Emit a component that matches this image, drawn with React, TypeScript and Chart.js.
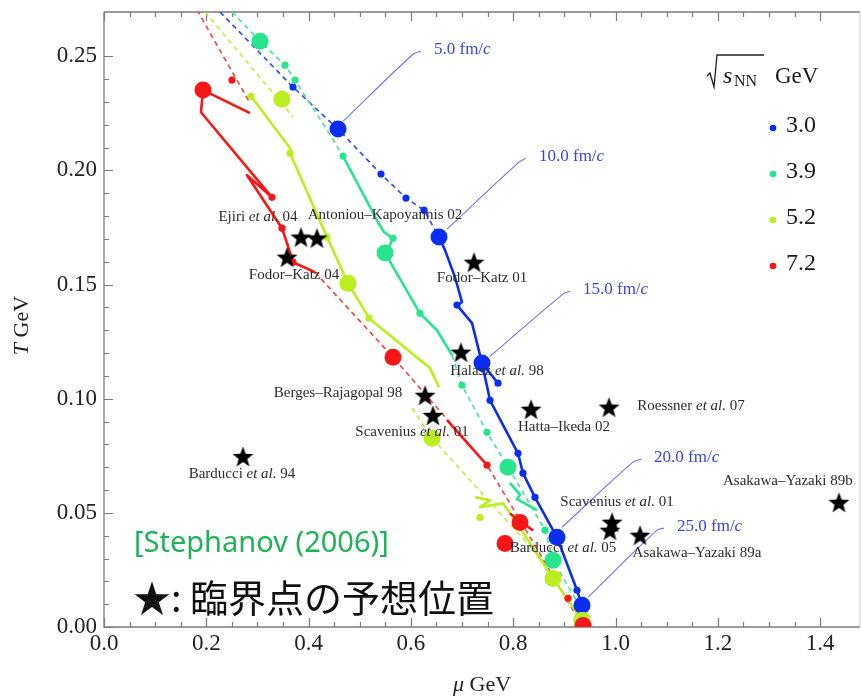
import React, { useEffect, useRef } from 'react';
import { Chart, registerables } from 'chart.js';

Chart.register(...registerables);

type P = [number, number];

// ---------- axes ----------
const xMin = 0;
const xMax = 1.478;
const yMin = 0;
const yMax = 0.2694;

// ---------- legend ----------
const energies = ['3.0', '3.9', '5.2', '7.2'];
const seriesColors = ['#0b2df2', '#27e58c', '#bbee1e', '#f81616'];
const dashedColors = ['#3552e6', '#4fe0a8', '#c6ec4a', '#ee4a4a'];

// ---------- sqrt(sNN) = 3.0 GeV (blue) ----------
const blueDashed: P[][] = [
  [[0.2268, 0.2694], [0.3695, 0.2365], [0.4575, 0.2181], [0.5415, 0.1984], [0.5904, 0.1879], [0.6256, 0.1826], [0.6549, 0.1708]],
];
const blueSolid: P[][] = [
  [[0.6549, 0.1708], [0.6667, 0.1651], [0.6862, 0.1532], [0.6999, 0.1423], [0.6901, 0.1410], [0.7195, 0.1331], [0.7390, 0.1156], [0.7703, 0.1068]],
  [[0.7390, 0.1156], [0.7547, 0.0993], [0.8094, 0.0761], [0.8191, 0.0674], [0.8426, 0.0568], [0.8856, 0.0393], [0.9247, 0.0161], [0.9345, 0.0095]],
];
const blueSmall: P[] = [[0.3695, 0.2365], [0.5415, 0.1984], [0.5904, 0.1879], [0.6256, 0.1826], [0.6901, 0.1410], [0.7703, 0.1068], [0.7547, 0.0993], [0.8094, 0.0761], [0.8191, 0.0674], [0.8426, 0.0568], [0.9247, 0.0161]];
const blueBig: P[] = [[0.4575, 0.2181], [0.6549, 0.1708], [0.7390, 0.1156], [0.8856, 0.0393], [0.9345, 0.0095]];

// ---------- 3.9 GeV (green) ----------
const greenDashed: P[][] = [
  [[0.2503, 0.2694], [0.3050, 0.2566], [0.3539, 0.2461], [0.3734, 0.2396], [0.4360, 0.2177], [0.4673, 0.2063]],
  [[0.6804, 0.1191], [0.6999, 0.1059], [0.7488, 0.0853], [0.7898, 0.0700], [0.8133, 0.0612], [0.8622, 0.0424], [0.8778, 0.0292], [0.9267, 0.0104], [0.9345, 0.0029]],
];
const greenSolid: P[][] = [
  [[0.4673, 0.2063], [0.5357, 0.1773], [0.5474, 0.1730], [0.5650, 0.1703], [0.5591, 0.1673], [0.5494, 0.1638], [0.6178, 0.1374], [0.6510, 0.1300], [0.6804, 0.1191]],
  [[0.7937, 0.0630], [0.8133, 0.0580], [0.8075, 0.0560], [0.8465, 0.0512]],
];
const greenSmall: P[] = [[0.3539, 0.2461], [0.3734, 0.2396], [0.4673, 0.2063], [0.5650, 0.1703], [0.6178, 0.1374], [0.6999, 0.1059], [0.7488, 0.0853], [0.8622, 0.0424]];
const greenBig: P[] = [[0.3050, 0.2566], [0.5494, 0.1638], [0.7898, 0.0700], [0.8778, 0.0292], [0.9345, 0.0029]];

// ---------- 5.2 GeV (yellow-green) ----------
const yellowDashed: P[][] = [
  [[0.1975, 0.2694], [0.3695, 0.2234]],
  [[0.6022, 0.0959], [0.6413, 0.0827], [0.8524, 0.0305], [0.8778, 0.0213]],
];
const yellowSolid: P[][] = [
  [[0.2874, 0.2325], [0.3636, 0.2098], [0.3636, 0.2075], [0.4360, 0.1708], [0.4770, 0.1506], [0.5181, 0.1353], [0.5318, 0.1327], [0.5748, 0.1248], [0.6373, 0.1134], [0.6550, 0.1050]],
  [[0.7253, 0.0569], [0.7547, 0.0555], [0.7351, 0.0525], [0.7801, 0.0542], [0.7996, 0.0481], [0.8778, 0.0213], [0.9345, 0.0029]],
];
const yellowSmall: P[] = [[0.2874, 0.2325], [0.3636, 0.2075], [0.4360, 0.1708], [0.5181, 0.1353], [0.7350, 0.0480]];
const yellowBig: P[] = [[0.3480, 0.2312], [0.4770, 0.1506], [0.6413, 0.0827], [0.8778, 0.0213], [0.9345, 0.0029]];

// ---------- 7.2 GeV (red) ----------
const redDashed: P[][] = [
  [[0.1818, 0.2703], [0.2854, 0.2295]],
  [[0.4125, 0.1554], [0.5650, 0.1182], [0.7488, 0.0709], [0.8133, 0.0468], [0.9345, 0.0007]],
];
const redSolid: P[][] = [
  [[0.2854, 0.2251], [0.1935, 0.2352], [0.1896, 0.2255], [0.3284, 0.1882], [0.2796, 0.1979], [0.3480, 0.1747], [0.3578, 0.1681], [0.3695, 0.1598], [0.4125, 0.1554]],
  [[0.6706, 0.0906], [0.7488, 0.0709]],
  [[0.7937, 0.0497], [0.8387, 0.0423]],
];
const redSmall: P[] = [[0.2502, 0.2396], [0.3284, 0.1882], [0.3480, 0.1747], [0.3695, 0.1598], [0.7488, 0.0709], [0.9071, 0.0126]];
const redBig: P[] = [[0.1935, 0.2352], [0.5650, 0.1182], [0.8133, 0.0458], [0.7840, 0.0366], [0.9364, 0.0007]];

// ---------- time markers (fm/c) ----------
const timeLabels = ['5.0', '10.0', '15.0', '20.0', '25.0'];
const calloutPaths: P[][] = [
  [[0.4673, 0.2215], [0.6041, 0.2509], [0.6197, 0.2522]],
  [[0.6706, 0.1743], [0.8113, 0.2036], [0.8250, 0.2054]],
  [[0.7547, 0.1186], [0.8974, 0.1458], [0.9110, 0.1471]],
  [[0.8954, 0.0437], [1.0342, 0.0722], [1.0499, 0.0735]],
  [[0.9462, 0.0130], [1.0811, 0.0424], [1.0948, 0.0433]],
];

// ---------- critical point predictions ----------
const starNames = [
  'Ejiri *et al.* 04', 'Antoniou–Kapoyannis 02', 'Fodor–Katz 04', 'Fodor–Katz 01',
  'Halasz *et al.* 98', 'Berges–Rajagopal 98', 'Scavenius *et al.* 01', 'Barducci *et al.* 94',
  'Hatta–Ikeda 02', 'Roessner *et al.* 07', 'Asakawa–Yazaki 89b', 'Scavenius *et al.* 01',
  'Barducci *et al.* 05', 'Asakawa–Yazaki 89a',
];
const starMu = [0.3851, 0.4164, 0.3578, 0.7234, 0.6979, 0.6276, 0.6432, 0.2717, 0.8348, 0.9873, 1.4369, 0.9932, 0.9892, 1.0479];
const starT = [0.1708, 0.1704, 0.1620, 0.1598, 0.1204, 0.1015, 0.0927, 0.0747, 0.0954, 0.0963, 0.0546, 0.0459, 0.0424, 0.0402];

// label placement relative to each star (px offset, alignment)
const starLabelPlace: [number, number, string][] = [
  [-43, -20, 'center'], [68, -23, 'center'], [7, 18, 'center'], [8, 16, 'center'],
  [36, 19, 'center'], [-87, -2, 'center'], [-21, 17, 'center'], [-1, 18, 'center'],
  [33, 18, 'center'], [82, -1, 'center'], [-116, -21, 'left'], [5, -20, 'center'],
  [-47, 18, 'center'], [57, 18, 'center'],
];

const SERIF = '"Liberation Serif", "Times New Roman", serif';

const toXY = (pts: P[]) => pts.map(([x, y]) => ({ x, y }));
const isMult = (v: number, s: number) => Math.abs(v / s - Math.round(v / s)) < 1e-6;

function makeStar(size: number): HTMLCanvasElement {
  const c = document.createElement('canvas');
  c.width = size;
  c.height = size;
  const g = c.getContext('2d')!;
  const cx = size / 2;
  const cy = size / 2 + 1;
  const R = size / 2 - 0.5;
  const r = R * 0.42;
  g.beginPath();
  for (let i = 0; i < 10; i++) {
    const a = -Math.PI / 2 + (i * Math.PI) / 5;
    const rad = i % 2 === 0 ? R : r;
    g.lineTo(cx + rad * Math.cos(a), cy + rad * Math.sin(a));
  }
  g.closePath();
  g.fillStyle = '#000';
  g.fill();
  return c;
}

function drawRich(ctx: CanvasRenderingContext2D, text: string, x: number, y: number, size: number, color: string, align: string) {
  const parts = text.split('*');
  const fN = `${size}px ${SERIF}`;
  const fI = `italic ${size}px ${SERIF}`;
  let w = 0;
  parts.forEach((p, i) => {
    ctx.font = i % 2 ? fI : fN;
    w += ctx.measureText(p).width;
  });
  let sx = align === 'left' ? x : align === 'right' ? x - w : x - w / 2;
  ctx.textAlign = 'left';
  ctx.textBaseline = 'middle';
  ctx.fillStyle = color;
  parts.forEach((p, i) => {
    ctx.font = i % 2 ? fI : fN;
    ctx.fillText(p, sx, y);
    sx += ctx.measureText(p).width;
  });
}

const overlayPlugin = {
  id: 'overlay',
  beforeDatasetsDraw(chart: any) {
    const ctx: CanvasRenderingContext2D = chart.ctx;
    const { left, right, top, bottom } = chart.chartArea;
    const xs = chart.scales.x;
    const ys = chart.scales.y;
    ctx.save();
    ctx.strokeStyle = '#7a7a7a';
    ctx.lineWidth = 1.3;
    ctx.beginPath();
    ctx.moveTo(left, top);
    ctx.lineTo(left, bottom);
    ctx.lineTo(right, bottom);
    ctx.moveTo(left, top);
    ctx.lineTo(right, top);
    ctx.stroke();
    ctx.strokeStyle = '#d8d8d8';
    ctx.beginPath();
    ctx.moveTo(right, top);
    ctx.lineTo(right, bottom);
    ctx.stroke();
    ctx.strokeStyle = '#7a7a7a';
    ctx.lineWidth = 1.2;
    ctx.beginPath();
    xs.ticks.forEach((t: any) => {
      const px = Math.round(xs.getPixelForValue(t.value)) + 0.5;
      const len = isMult(t.value, 0.2) ? 9 : 5;
      ctx.moveTo(px, bottom);
      ctx.lineTo(px, bottom - len);
      ctx.moveTo(px, top);
      ctx.lineTo(px, top + len);
    });
    ys.ticks.forEach((t: any) => {
      const py = Math.round(ys.getPixelForValue(t.value)) + 0.5;
      const len = isMult(t.value, 0.05) ? 9 : 5;
      ctx.moveTo(left, py);
      ctx.lineTo(left + len, py);
    });
    ctx.stroke();
    ctx.restore();
  },
  afterDatasetsDraw(chart: any) {
    const ctx: CanvasRenderingContext2D = chart.ctx;
    const { left, right, top, bottom } = chart.chartArea;
    const xs = chart.scales.x;
    const ys = chart.scales.y;
    ctx.save();

    // star labels
    starNames.forEach((name, i) => {
      const [dx, dy, al] = starLabelPlace[i];
      const px = xs.getPixelForValue(starMu[i]) + dx;
      const py = ys.getPixelForValue(starT[i]) + dy;
      drawRich(ctx, name, px, py, 15, '#2b2b2b', al);
    });

    // time labels
    timeLabels.forEach((t, i) => {
      const end = calloutPaths[i][calloutPaths[i].length - 1];
      const px = xs.getPixelForValue(end[0]) + 13;
      const py = ys.getPixelForValue(end[1]) - 2;
      drawRich(ctx, `${t} fm/*c*`, px, py, 17, '#3e43dc', 'left');
    });

    // legend
    const lx = 707;
    const ly = 55;
    ctx.strokeStyle = '#222';
    ctx.lineWidth = 1.3;
    ctx.beginPath();
    ctx.moveTo(lx, ly + 21);
    ctx.lineTo(lx + 3, ly + 18);
    ctx.lineTo(lx + 7, ly + 32);
    ctx.lineTo(lx + 10, ly);
    ctx.lineTo(lx + 57, ly);
    ctx.stroke();
    ctx.fillStyle = '#1a1a1a';
    ctx.textAlign = 'left';
    ctx.textBaseline = 'alphabetic';
    ctx.font = `italic 24px ${SERIF}`;
    ctx.fillText('s', lx + 16, ly + 28);
    ctx.font = `16px ${SERIF}`;
    ctx.fillText('NN', lx + 27, ly + 31);
    ctx.font = `23px ${SERIF}`;
    ctx.fillText('GeV', lx + 68, ly + 28);
    energies.forEach((e, i) => {
      const cy = 128 + i * 46;
      ctx.beginPath();
      ctx.fillStyle = seriesColors[i];
      ctx.arc(773, cy, 3.3, 0, Math.PI * 2);
      ctx.fill();
      ctx.fillStyle = '#1a1a1a';
      ctx.font = `24px ${SERIF}`;
      ctx.textBaseline = 'middle';
      ctx.fillText(e, 786, cy - 2);
    });

    // annotations
    ctx.textBaseline = 'middle';
    ctx.textAlign = 'left';
    ctx.fillStyle = '#1fb257';
    ctx.font = '29px "Noto Sans", "Open Sans", sans-serif';
    ctx.fillText('[Stephanov (2006)]', 134, 544);
    ctx.fillStyle = '#111';
    ctx.font = '38px "Noto Sans CJK JP", "Noto Sans", sans-serif';
    ctx.fillText('★: 臨界点の予想位置', 133, 598);

    // axis titles
    drawRich(ctx, '*μ* GeV', (left + right) / 2, 685, 22, '#222', 'center');
    ctx.save();
    ctx.translate(22, (top + bottom) / 2 + 6);
    ctx.rotate(-Math.PI / 2);
    drawRich(ctx, '*T* GeV', 0, 0, 22, '#222', 'center');
    ctx.restore();

    ctx.restore();
  },
};

export default function App() {
  const ref = useRef<HTMLCanvasElement | null>(null);

  useEffect(() => {
    if (!ref.current) return;
    const starImg = makeStar(23);
    const datasets: any[] = [];

    // stars on top
    datasets.push({
      data: starMu.map((x, i) => ({ x, y: starT[i] })),
      pointStyle: starImg,
      pointRadius: 11,
      showLine: false,
    });

    const series = [
      { dashed: redDashed, solid: redSolid, small: redSmall, big: redBig, c: 3 },
      { dashed: yellowDashed, solid: yellowSolid, small: yellowSmall, big: yellowBig, c: 2 },
      { dashed: greenDashed, solid: greenSolid, small: greenSmall, big: greenBig, c: 1 },
      { dashed: blueDashed, solid: blueSolid, small: blueSmall, big: blueBig, c: 0 },
    ];

    series.forEach((s) => {
      datasets.push({
        data: toXY(s.big),
        showLine: false,
        pointRadius: 8.5,
        pointBackgroundColor: seriesColors[s.c],
        pointBorderWidth: 0,
      });
    });
    series.forEach((s) => {
      datasets.push({
        data: toXY(s.small),
        showLine: false,
        pointRadius: 3.6,
        pointBackgroundColor: seriesColors[s.c],
        pointBorderWidth: 0,
      });
    });
    series.forEach((s) => {
      s.solid.forEach((seg) => {
        datasets.push({
          data: toXY(seg),
          showLine: true,
          borderColor: seriesColors[s.c],
          borderWidth: 2.6,
          pointRadius: 0,
          borderJoinStyle: 'round',
        });
      });
    });
    series.forEach((s) => {
      s.dashed.forEach((seg) => {
        datasets.push({
          data: toXY(seg),
          showLine: true,
          borderColor: dashedColors[s.c],
          borderWidth: 1.7,
          borderDash: [5, 4],
          pointRadius: 0,
        });
      });
    });
    calloutPaths.forEach((path) => {
      datasets.push({
        data: toXY(path),
        showLine: true,
        borderColor: '#6a78e0',
        borderWidth: 1.1,
        pointRadius: 0,
        tension: 0.35,
        clip: false,
      });
    });

    const chart = new Chart(ref.current, {
      type: 'scatter',
      data: { datasets },
      options: {
        animation: false,
        responsive: false,
        events: [],
        layout: { autoPadding: false, padding: { top: 12, right: 1, left: 0, bottom: 0 } },
        plugins: { legend: { display: false }, tooltip: { enabled: false } },
        scales: {
          x: {
            type: 'linear',
            min: xMin,
            max: xMax,
            border: { display: false },
            grid: { display: false, drawTicks: false },
            afterBuildTicks: (s: any) => {
              s.ticks = s.ticks.filter((t: any) => isMult(t.value, 0.05));
            },
            afterFit: (s: any) => {
              s.height = 72;
              s.paddingLeft = 0;
              s.paddingRight = 0;
            },
            ticks: {
              stepSize: 0.05,
              autoSkip: false,
              maxRotation: 0,
              padding: 3,
              color: '#222',
              font: { family: SERIF, size: 23 },
              callback: (v: any) => (isMult(Number(v), 0.2) ? Number(v).toFixed(1) : ''),
            },
          },
          y: {
            type: 'linear',
            min: yMin,
            max: yMax,
            border: { display: false },
            grid: { display: false, drawTicks: false },
            afterBuildTicks: (s: any) => {
              s.ticks = s.ticks.filter((t: any) => isMult(t.value, 0.01));
            },
            afterFit: (s: any) => {
              s.width = 104;
              s.paddingTop = 0;
              s.paddingBottom = 0;
            },
            ticks: {
              stepSize: 0.01,
              autoSkip: false,
              padding: 7,
              color: '#222',
              font: { family: SERIF, size: 23 },
              callback: (v: any) => (isMult(Number(v), 0.05) ? Number(v).toFixed(2) : ''),
            },
          },
        },
      },
      plugins: [overlayPlugin],
    } as any);

    return () => chart.destroy();
  }, []);

  return (
    <div style={{ position: 'fixed', left: 0, top: 0, width: 861, height: 699, background: '#fff' }}>
      <canvas ref={ref} width={861} height={699} style={{ display: 'block', width: 861, height: 699 }} />
    </div>
  );
}
